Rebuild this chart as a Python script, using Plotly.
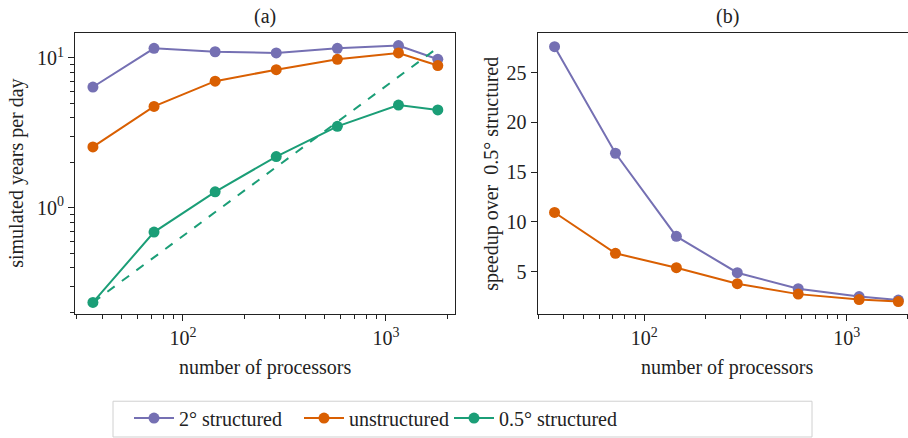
import plotly.graph_objects as go

# ---- data ----
procs = [36, 72, 144, 288, 576, 1152, 1800]
years_2deg = [6.4, 11.6, 11.0, 10.8, 11.6, 12.1, 9.8]
years_unstr = [2.55, 4.75, 7.0, 8.35, 9.8, 10.8, 8.9]
years_half = [0.234, 0.69, 1.28, 2.2, 3.5, 4.85, 4.5]
ideal_procs = [36, 1800]
ideal_years = [0.234, 11.7]
speedup_2deg = [27.6, 16.9, 8.55, 4.9, 3.3, 2.5, 2.15]
speedup_unstr = [10.95, 6.85, 5.4, 3.8, 2.75, 2.2, 2.0]

log_tickvals_x = [100, 1000]
log_ticktext_x = ["10<sup>2</sup>", "10<sup>3</sup>"]
log_minor_x = [30, 40, 50, 60, 70, 80, 90, 200, 300, 400, 500, 600, 700, 800, 900, 2000]
log_tickvals_y = [1, 10]
log_ticktext_y = ["10<sup>0</sup>", "10<sup>1</sup>"]
log_minor_y = [0.2, 0.3, 0.4, 0.5, 0.6, 0.7, 0.8, 0.9, 2, 3, 4, 5, 6, 7, 8, 9]
lin_tickvals_y = [5, 10, 15, 20, 25]

names = ["2° structured", "unstructured", "0.5° structured"]
colors = ["#7570b3", "#d95f02", "#1b9e77"]

W, H = 908, 438
FONT = "Liberation Serif"
FS = 20


def px(x):
    return x / W


def py(y):
    return 1 - y / H


fig = go.Figure()
mk = dict(size=11)
lw = 2

# panel (a)
fig.add_trace(go.Scatter(x=procs, y=years_2deg, mode="lines+markers", name=names[0],
                         line=dict(color=colors[0], width=lw), marker=dict(color=colors[0], **mk),
                         xaxis="x", yaxis="y", legend="legend"))
fig.add_trace(go.Scatter(x=procs, y=years_unstr, mode="lines+markers", name=names[1],
                         line=dict(color=colors[1], width=lw), marker=dict(color=colors[1], **mk),
                         xaxis="x", yaxis="y", legend="legend2"))
fig.add_trace(go.Scatter(x=ideal_procs, y=ideal_years, mode="lines", showlegend=False,
                         line=dict(color=colors[2], width=lw, dash="dash"),
                         xaxis="x", yaxis="y"))
fig.add_trace(go.Scatter(x=procs, y=years_half, mode="lines+markers", name=names[2],
                         line=dict(color=colors[2], width=lw), marker=dict(color=colors[2], **mk),
                         xaxis="x", yaxis="y", legend="legend3"))

# panel (b)
fig.add_trace(go.Scatter(x=procs, y=speedup_2deg, mode="lines+markers", showlegend=False,
                         line=dict(color=colors[0], width=lw), marker=dict(color=colors[0], **mk),
                         xaxis="x2", yaxis="y2"))
fig.add_trace(go.Scatter(x=procs, y=speedup_unstr, mode="lines+markers", showlegend=False,
                         line=dict(color=colors[1], width=lw), marker=dict(color=colors[1], **mk),
                         xaxis="x2", yaxis="y2"))

axis_common = dict(showgrid=False, zeroline=False, showline=True, linecolor="#222",
                   linewidth=1.2, ticks="outside", ticklen=6, tickwidth=1.2, tickcolor="#222",
                   tickfont=dict(family=FONT, size=FS, color="#222"))


def minor(vals):
    return dict(tickvals=vals, ticks="outside", ticklen=3.5, tickwidth=1,
                tickcolor="#222", showgrid=False)


dom_a = [px(75), px(455)]
dom_b = [px(537.7), 1.0]
dom_y = [py(316.5), py(33)]

fig.update_layout(
    width=W, height=H,
    margin=dict(l=0, r=0, t=0, b=0),
    paper_bgcolor="white", plot_bgcolor="white",
    font=dict(family=FONT, size=FS, color="#222"),
    xaxis=dict(type="log", domain=dom_a, range=[1.468, 3.34], tickvals=log_tickvals_x,
               ticktext=log_ticktext_x, mirror=True, anchor="y", minor=minor(log_minor_x),
               **axis_common),
    yaxis=dict(type="log", domain=dom_y, range=[-0.71, 1.168], tickvals=log_tickvals_y,
               ticktext=log_ticktext_y, mirror=True, anchor="x", minor=minor(log_minor_y),
               **axis_common),
    xaxis2=dict(type="log", domain=dom_b, range=[1.473, 3.303], tickvals=log_tickvals_x,
                ticktext=log_ticktext_x, mirror=True, anchor="y2", minor=minor(log_minor_x),
                **axis_common),
    yaxis2=dict(domain=dom_y, range=[0.72, 29.0], tickvals=lin_tickvals_y, mirror=False,
                anchor="x2", **axis_common),
)

leg_common = dict(orientation="h", xanchor="left", yanchor="middle", bgcolor="rgba(0,0,0,0)",
                  font=dict(family=FONT, size=FS, color="#222"), itemwidth=40)
fig.update_layout(
    legend=dict(x=px(129), y=py(421), **leg_common),
    legend2=dict(x=px(299), y=py(421), **leg_common),
    legend3=dict(x=px(449), y=py(421), **leg_common),
)

# legend frame
fig.add_shape(type="rect", xref="paper", yref="paper", x0=px(113), x1=px(812),
              y0=py(440), y1=py(404), line=dict(color="#d0d0d0", width=1), layer="below")

ann = dict(xref="paper", yref="paper", showarrow=False, xanchor="center", yanchor="middle",
           font=dict(family=FONT, size=FS, color="#222"))
fig.add_annotation(text="(a)", x=px(265), y=py(17), **ann)
fig.add_annotation(text="(b)", x=px(727), y=py(17), **ann)
fig.add_annotation(text="number of processors", x=px(265), y=py(370), **ann)
fig.add_annotation(text="number of processors", x=px(727), y=py(370), **ann)
fig.add_annotation(text="simulated years per day", x=px(17), y=py(175), textangle=-90, **ann)
fig.add_annotation(text="speedup over\u00a0 0.5° structured", x=px(492), y=py(175), textangle=-90, **ann)

fig.write_html("out.html", config={"displayModeBar": False},
               post_script="document.body.style.margin='0';document.body.style.overflow='hidden';")
